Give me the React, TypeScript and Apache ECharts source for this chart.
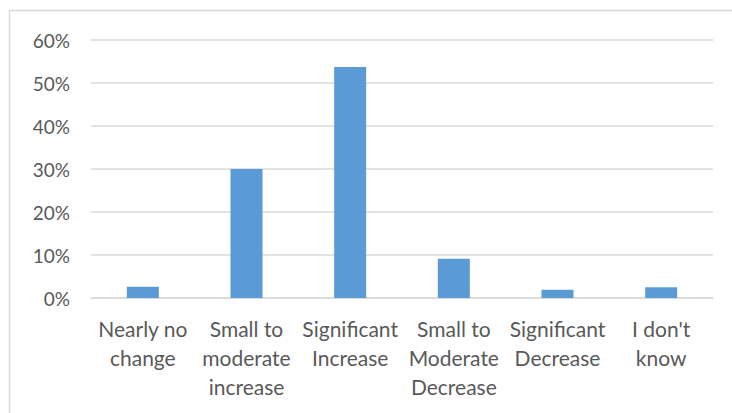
import React, { useEffect, useRef } from "react";
import * as echarts from "echarts";

const categories = [
  "Nearly no\nchange",
  "Small to\nmoderate\nincrease",
  "Significant\nIncrease",
  "Small to\nModerate\nDecrease",
  "Significant\nDecrease",
  "I don't\nknow",
];
const shares = [0.026, 0.3, 0.537, 0.091, 0.019, 0.025];
const yTicks = { min: 0, max: 0.6, interval: 0.1 };

const FONT = "Lato, 'Noto Sans', sans-serif";
const TEXT = "#595959";
const GRID = "#d9d9d9";

export default function App() {
  const ref = useRef<HTMLDivElement>(null);

  useEffect(() => {
    if (!ref.current) return;
    const chart = echarts.init(ref.current, undefined, { renderer: "svg" });
    chart.setOption({
      animation: false,
      backgroundColor: "#ffffff",
      textStyle: { fontFamily: FONT },
      grid: { left: 91, right: 19, top: 40, bottom: 115, containLabel: false },
      graphic: [
        {
          type: "rect",
          silent: true,
          shape: { x: 9.5, y: 10.5, width: 760, height: 450 },
          style: { fill: "none", stroke: GRID, lineWidth: 1.5 },
        },
      ],
      xAxis: {
        type: "category",
        data: categories,
        axisTick: { show: false },
        axisLine: { lineStyle: { color: GRID, width: 1.5 } },
        axisLabel: {
          color: TEXT,
          fontSize: 21,
          lineHeight: 29,
          margin: 16,
          interval: 0,
          fontFamily: FONT,
        },
      },
      yAxis: {
        type: "value",
        min: yTicks.min,
        max: yTicks.max,
        interval: yTicks.interval,
        axisLine: { show: false },
        axisTick: { show: false },
        splitLine: { lineStyle: { color: GRID, width: 1.5 } },
        axisLabel: {
          color: TEXT,
          fontSize: 19,
          margin: 21,
          fontFamily: FONT,
          formatter: (v: number) => `${Math.round(v * 100)}%`,
        },
      },
      series: [
        {
          type: "bar",
          data: shares,
          barWidth: 32,
          itemStyle: { color: "#5b9bd5" },
        },
      ],
    });
    return () => chart.dispose();
  }, []);

  return (
    <div
      ref={ref}
      style={{ position: "fixed", left: 0, top: 0, width: 732, height: 413 }}
    />
  );
}
